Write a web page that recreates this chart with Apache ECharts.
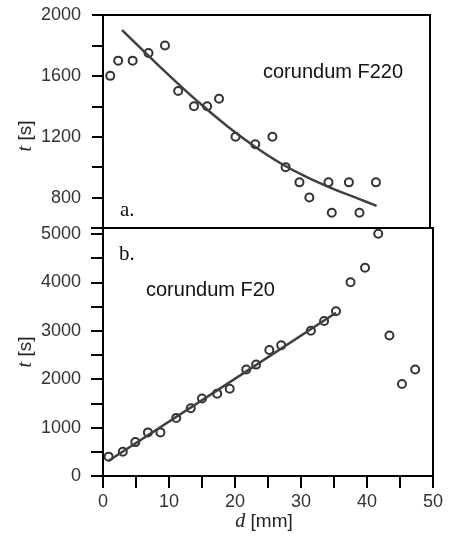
<!DOCTYPE html>
<html><head><meta charset="utf-8">
<script src="https://cdn.jsdelivr.net/npm/echarts@6/dist/echarts.min.js"></script>
<style>html,body{margin:0;padding:0;background:#fff}#c{width:449px;height:537px}</style>
</head><body><div id="c"></div>
<script>
// Panel a: corundum F220
const f220_d = [1.1,2.3,4.5,6.9,9.4,11.4,13.8,15.8,17.6,20.1,23.1,25.7,27.7,29.8,31.3,34.2,34.7,37.3,38.9,41.4];
const f220_t = [1600,1700,1700,1750,1800,1500,1400,1400,1450,1200,1150,1200,1000,900,800,900,700,900,700,900];
const f220_fit_d = [2.9,7,11,15,19,23,27,31,35,39,41.5];
const f220_fit_t = [1900,1728,1564,1408,1264,1136,1024,932,856,788,745];
// Panel b: corundum F20
const f20_d = [0.85,3.0,4.9,6.8,8.7,11.1,13.3,15.0,17.3,19.2,21.7,23.2,25.2,27.0,31.5,33.5,35.3,37.5,39.7,41.7,43.4,45.3,47.3];
const f20_t = [400,500,700,900,900,1200,1400,1600,1700,1800,2200,2300,2600,2700,3000,3200,3400,4000,4300,5000,2900,1900,2200];
const f20_fit_d = [0.85,18,35.3];
const f20_fit_t = [316,1830,3370];
// Tick labels
const topTickLabels = [800,1200,1600,2000];
const bottomTickLabels = [0,1000,2000,3000,4000,5000];
const xTickLabels = [0,10,20,30,40,50];

const pairs = (xs, ys) => xs.map((x, i) => [x, ys[i]]);
const SANS = 'Liberation Sans, Arial, sans-serif';
const SERIF = 'Liberation Serif, Times New Roman, serif';
const labelStyle = {fontFamily: SANS, fontSize: 18, color: '#333'};

const chart = echarts.init(document.getElementById('c'), null, {renderer: 'canvas'});
chart.setOption({
  animation: false,
  backgroundColor: '#fff',
  grid: [
    {left: 103, right: 19, top: 15, height: 213, show: true, borderColor: '#000', borderWidth: 2, containLabel: false},
    {left: 103, right: 16, top: 228, height: 248, show: true, borderColor: '#000', borderWidth: 2, containLabel: false}
  ],
  xAxis: [
    {gridIndex: 0, type: 'value', min: 0, max: 49.6, show: false},
    {gridIndex: 1, type: 'value', min: 0, max: 50, interval: 5,
     axisLine: {show: true, onZero: false, lineStyle: {color: '#000', width: 2}},
     axisTick: {show: true, length: 12, lineStyle: {color: '#000', width: 2}},
     axisLabel: Object.assign({margin: 17, formatter: v => xTickLabels.includes(v) ? String(v) : ''}, labelStyle),
     splitLine: {show: false}}
  ],
  yAxis: [
    {gridIndex: 0, type: 'value', min: 600, max: 2000, interval: 200,
     axisLine: {show: true, lineStyle: {color: '#000', width: 2}},
     axisTick: {show: true, length: 11, lineStyle: {color: '#000', width: 2}},
     axisLabel: Object.assign({margin: 22, formatter: v => topTickLabels.includes(v) ? String(v) : ''}, labelStyle),
     splitLine: {show: false}},
    {gridIndex: 1, type: 'value', min: 0, max: 5120, interval: 500,
     axisLine: {show: true, lineStyle: {color: '#000', width: 2}},
     axisTick: {show: true, length: 12, lineStyle: {color: '#000', width: 2}},
     axisLabel: Object.assign({margin: 22, formatter: v => bottomTickLabels.includes(v) ? String(v) : ''}, labelStyle),
     splitLine: {show: false}}
  ],
  series: [
    {type: 'scatter', xAxisIndex: 0, yAxisIndex: 0, data: pairs(f220_d, f220_t), symbol: 'circle', symbolSize: 8,
     itemStyle: {color: 'rgba(255,255,255,0)', borderColor: '#000', borderWidth: 2}, z: 2},
    {type: 'line', xAxisIndex: 0, yAxisIndex: 0, data: pairs(f220_fit_d, f220_fit_t), smooth: 0.4, showSymbol: false,
     lineStyle: {color: '#404040', width: 2.5}, z: 3},
    {type: 'scatter', xAxisIndex: 1, yAxisIndex: 1, data: pairs(f20_d, f20_t), symbol: 'circle', symbolSize: 8,
     itemStyle: {color: 'rgba(255,255,255,0)', borderColor: '#000', borderWidth: 2}, z: 2},
    {type: 'line', xAxisIndex: 1, yAxisIndex: 1, data: pairs(f20_fit_d, f20_fit_t), smooth: false, showSymbol: false,
     lineStyle: {color: '#404040', width: 2.5}, z: 3}
  ],
  graphic: [
    {type: 'text', left: 263, top: 62, style: {text: 'corundum F220', fontFamily: SANS, fontSize: 20, fill: '#111'}},
    {type: 'text', left: 146, top: 280, style: {text: 'corundum F20', fontFamily: SANS, fontSize: 20, fill: '#111'}},
    {type: 'text', left: 120, top: 200, style: {text: 'a.', fontFamily: SERIF, fontSize: 21, fill: '#111'}},
    {type: 'text', left: 119, top: 244, style: {text: 'b.', fontFamily: SERIF, fontSize: 21, fill: '#111'}},
    {type: 'text', x: 26, y: 136, rotation: Math.PI / 2,
     style: {text: '{i|t} [s]', fontFamily: SANS, fontSize: 19, fill: '#222', align: 'center', verticalAlign: 'middle',
       rich: {i: {fontFamily: SERIF, fontStyle: 'italic', fontSize: 20, fill: '#222'}}}},
    {type: 'text', x: 26, y: 352, rotation: Math.PI / 2,
     style: {text: '{i|t} [s]', fontFamily: SANS, fontSize: 19, fill: '#222', align: 'center', verticalAlign: 'middle',
       rich: {i: {fontFamily: SERIF, fontStyle: 'italic', fontSize: 20, fill: '#222'}}}},
    {type: 'text', x: 264, y: 522,
     style: {text: '{i|d} [mm]', fontFamily: SANS, fontSize: 19, fill: '#222', align: 'center', verticalAlign: 'middle',
       rich: {i: {fontFamily: SERIF, fontStyle: 'italic', fontSize: 20, fill: '#222'}}}}
  ]
});
</script>
</body></html>
